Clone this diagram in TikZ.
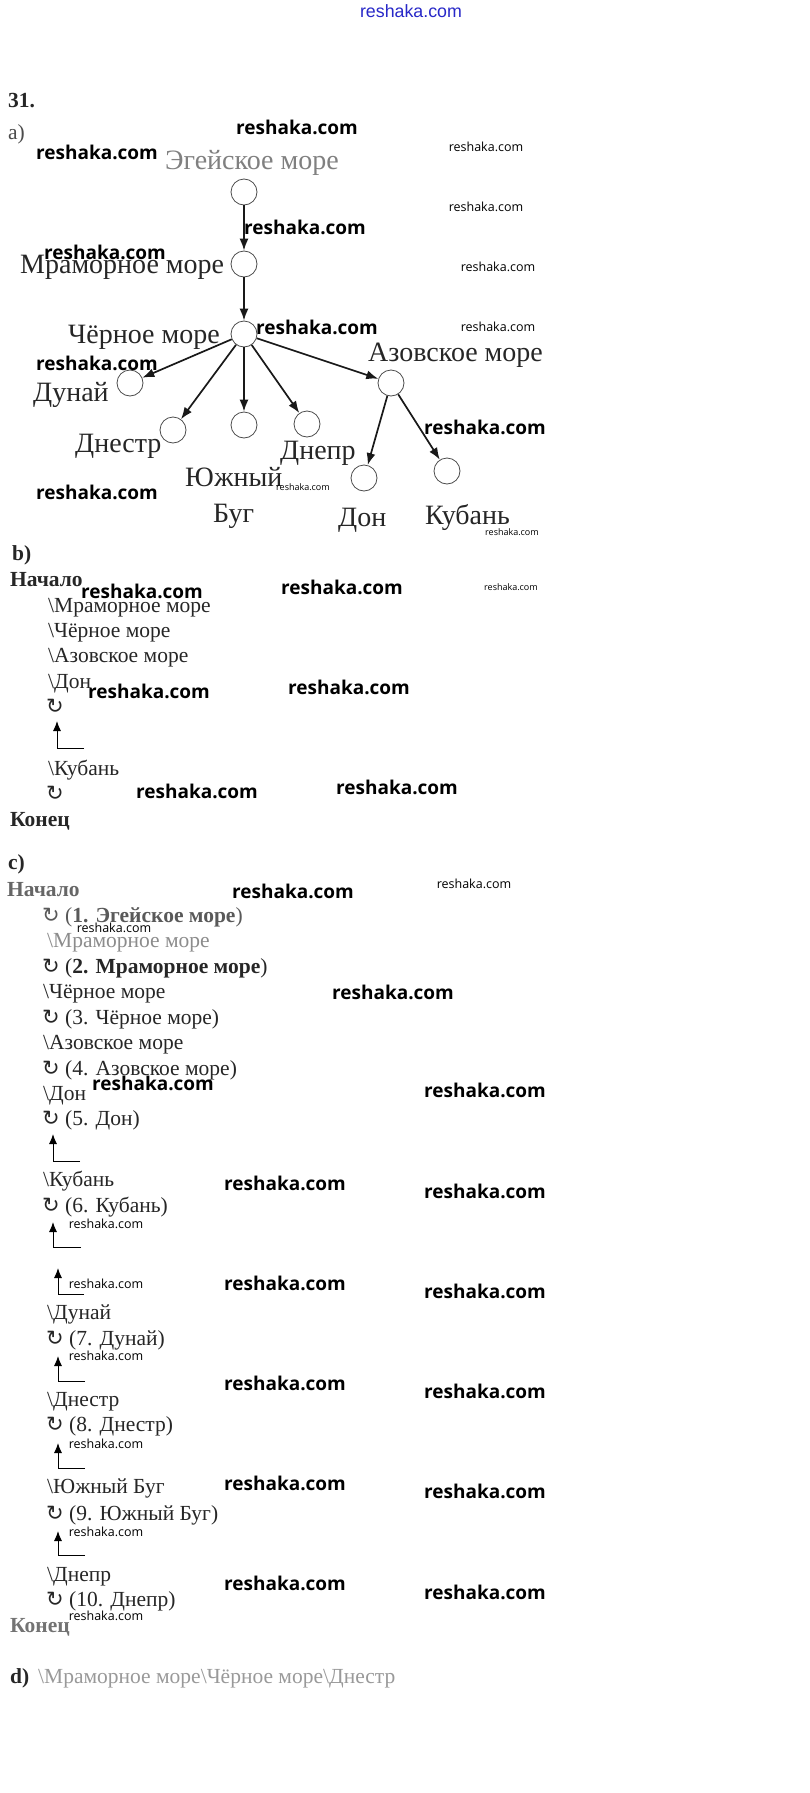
\documentclass[tikz,border=0pt]{standalone}
\usepackage{fontspec}
\setmainfont{Liberation Serif}
\newfontfamily\wmfont{Open Sans}
\newfontfamily\topfont{Liberation Sans}
\newfontfamily\symfont{DejaVu Sans}
\usetikzlibrary{arrows.meta}
\newcommand\tsize{\fontsize{28pt}{30pt}\selectfont}
\newcommand\lsize{\fontsize{21.5pt}{25pt}\selectfont}
\newcommand\cyc{{\symfont\fontsize{21pt}{21pt}\selectfont ↻}}
\tikzset{
  lbl/.style={anchor=base west, inner sep=0pt, font=\tsize, text=black!85},
  item/.style={anchor=base west, inner sep=0pt, font=\lsize, text=black!85},
  itemb/.style={item, font=\lsize\bfseries},
  wmL/.style={inner sep=0pt, font=\wmfont\bfseries\fontsize{19pt}{19pt}\selectfont, text=black},
  wmM/.style={inner sep=0pt, font=\wmfont\fontsize{12.5pt}{12.5pt}\selectfont, text=black},
  wmT/.style={inner sep=0pt, font=\wmfont\fontsize{9pt}{9pt}\selectfont, text=black},
  circ/.style={circle, draw=black!70, line width=0.8pt, minimum size=26pt, inner sep=0pt},
  tarrow/.style={-{Latex[length=12pt,width=9pt]}, line width=1.7pt, draw=black!90},
  elbow/.style={-{Latex[length=10pt,width=8pt]}, line width=1pt, draw=black}
}
\begin{document}
\begin{tikzpicture}[x=1pt,y=-1pt]
\useasboundingbox[fill=white] (0,0) rectangle (809,1793);

% top watermark
\node[inner sep=0pt, font=\topfont\fontsize{17.8pt}{18pt}\selectfont, text={rgb,255:red,40;green,40;blue,200}] (wtop) at (411,11) {reshaka.com};

% headings
\node[itemb] (h31) at (8,107) {31.};
\node[item, text=black!70] (ha) at (8,139) {a)};

% ---------- tree ----------
\node[circ] (eg) at (244,192) {};
\node[circ] (mr) at (244,264) {};
\node[circ] (ch) at (244,334) {};
\node[circ] (du) at (130,383) {};
\node[circ] (dn) at (173,430) {};
\node[circ] (yb) at (244,425) {};
\node[circ] (dp) at (307,424) {};
\node[circ] (az) at (391,383) {};
\node[circ] (don) at (364,478) {};
\node[circ] (ku) at (447,471) {};

\node[lbl, text=black!50] (leg) at (165,169) {Эгейское море};
\node[lbl] (lmr) at (20,273) {Мраморное море};
\node[lbl] (lch) at (68,343) {Чёрное море};
\node[lbl] (ldu) at (33,401) {Дунай};
\node[lbl] (ldn) at (75,452) {Днестр};
\node[lbl] (ldp) at (280,459) {Днепр};
\node[lbl] (lyb1) at (185,486) {Южный};
\node[lbl] (lyb2) at (213,522) {Буг};
\node[lbl] (laz) at (368,361) {Азовское море};
\node[lbl] (ldon) at (338,526) {Дон};
\node[lbl] (lku) at (425,524) {Кубань};

\draw[tarrow] (eg) -- (mr);
\draw[tarrow] (mr) -- (ch);
\draw[tarrow] (ch) -- (du);
\draw[tarrow] (ch) -- (dn);
\draw[tarrow] (ch) -- (yb);
\draw[tarrow] (ch) -- (dp);
\draw[tarrow] (ch) -- (az);
\draw[tarrow] (az) -- (don);
\draw[tarrow] (az) -- (ku);

% ---------- b) ----------
\node[itemb] (hb) at (12,560) {b)};
\node[itemb] (bstart) at (10,586) {Начало};
\node[item] (b1) at (48,612) {\textbackslash Мраморное море};
\node[item] (b2) at (48,637) {\textbackslash Чёрное море};
\node[item] (b3) at (48,662) {\textbackslash Азовское море};
\node[item] (b4) at (48,688) {\textbackslash Дон};
\node[item] (b5) at (46,713) {\cyc};
\coordinate (ba1s) at (84,748);
\coordinate (ba1t) at (57,721);
\draw[elbow] (ba1s) -| (ba1t);
\node[item] (b6) at (48,775) {\textbackslash Кубань};
\node[item] (b7) at (46,800) {\cyc};
\node[itemb] (bend) at (10,826) {Конец};

% ---------- c) ----------
\node[itemb] (hc) at (8,869) {c)};
\node[itemb, text=black!60] (cstart) at (7,896) {Начало};
\node[item, text=black!65] (c1) at (42,922) {\cyc\ (\textbf{1. Эгейское море})};
\node[item, text=black!45] (c2) at (47,947) {\textbackslash Мраморное море};
\node[item] (c3) at (42,973) {\cyc\ (\textbf{2. Мраморное море})};
\node[item] (c4) at (43,998) {\textbackslash Чёрное море};
\node[item] (c5) at (42,1024) {\cyc\ (3. Чёрное море)};
\node[item] (c6) at (43,1049) {\textbackslash Азовское море};
\node[item] (c7) at (42,1075) {\cyc\ (4. Азовское море)};
\node[item] (c8) at (43,1100) {\textbackslash Дон};
\node[item] (c9) at (42,1125) {\cyc\ (5. Дон)};
\coordinate (ca1s) at (80,1161);
\coordinate (ca1t) at (53,1134);
\draw[elbow] (ca1s) -| (ca1t);
\node[item] (c10) at (43,1186) {\textbackslash Кубань};
\node[item] (c11) at (42,1212) {\cyc\ (6. Кубань)};
\coordinate (ca2s) at (81,1247);
\coordinate (ca2t) at (53,1222);
\draw[elbow] (ca2s) -| (ca2t);
\coordinate (ca3s) at (84,1294);
\coordinate (ca3t) at (58,1268);
\draw[elbow] (ca3s) -| (ca3t);
\node[item] (c12) at (47,1319) {\textbackslash Дунай};
\node[item] (c13) at (46,1345) {\cyc\ (7. Дунай)};
\coordinate (ca4s) at (85,1381);
\coordinate (ca4t) at (58,1356);
\draw[elbow] (ca4s) -| (ca4t);
\node[item] (c14) at (47,1406) {\textbackslash Днестр};
\node[item] (c15) at (46,1431) {\cyc\ (8. Днестр)};
\coordinate (ca5s) at (85,1468);
\coordinate (ca5t) at (58,1443);
\draw[elbow] (ca5s) -| (ca5t);
\node[item] (c16) at (47,1493) {\textbackslash Южный Буг};
\node[item] (c17) at (46,1520) {\cyc\ (9. Южный Буг)};
\coordinate (ca6s) at (85,1555);
\coordinate (ca6t) at (58,1531);
\draw[elbow] (ca6s) -| (ca6t);
\node[item] (c18) at (47,1581) {\textbackslash Днепр};
\node[item] (c19) at (46,1606) {\cyc\ (10. Днепр)};
\node[itemb, text=black!55] (cend) at (10,1632) {Конец};

% ---------- d) ----------
\node[itemb] (hd) at (10,1683) {d)};
\node[item, text=black!40] (d1) at (38,1683) {\textbackslash Мраморное море\textbackslash Чёрное море\textbackslash Днестр};

% ---------- watermarks ----------
\foreach \px/\py [count=\i] in {297/127, 97/152, 305/227, 105/252, 317/327, 97/363, 485/427, 97/492,
  142/591, 342/587, 149/691, 349/687, 197/791, 397/787,
  293/891, 393/992, 153/1083, 485/1090, 285/1183, 485/1191, 285/1283, 485/1291,
  285/1383, 485/1391, 285/1483, 485/1491, 285/1583, 485/1592}
  \node[wmL] (wl\i) at (\px,\py) {reshaka.com};
\foreach \px/\py [count=\i] in {486/147, 486/207, 498/267, 498/327, 474/884, 114/928,
  106/1224, 106/1284, 106/1356, 106/1444, 106/1532, 106/1616}
  \node[wmM] (wm\i) at (\px,\py) {reshaka.com};
\foreach \px/\py [count=\i] in {303/487, 512/532, 511/587}
  \node[wmT] (wt\i) at (\px,\py) {reshaka.com};
\end{tikzpicture}
\end{document}
